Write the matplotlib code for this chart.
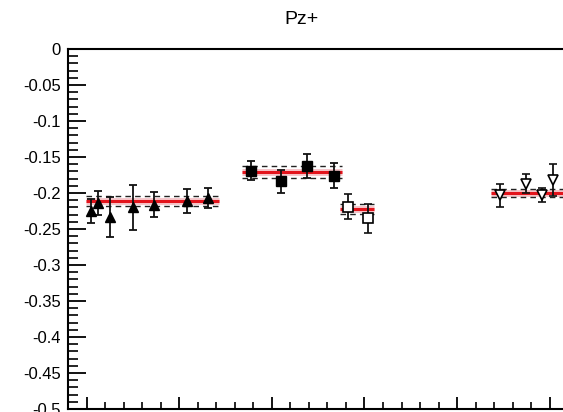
"""
Pz+ values per group with constant fits.
"""
import numpy as np
import matplotlib.pyplot as plt
from matplotlib.ticker import MultipleLocator

# filled triangles
tri_x = [0.05, 0.12, 0.25, 0.50, 0.73, 1.08, 1.31]
tri_y = [-0.225, -0.214, -0.233, -0.220, -0.216, -0.211, -0.207]
tri_err = [0.017, 0.017, 0.028, 0.031, 0.017, 0.017, 0.014]

# filled squares
sq_x = [1.77, 2.10, 2.38, 2.67]
sq_y = [-0.169, -0.184, -0.1625, -0.176]
sq_err = [0.013, 0.016, 0.016, 0.017]

# open squares
osq_x = [2.82, 3.04]
osq_y = [-0.219, -0.235]
osq_err = [0.017, 0.020]

# open down triangles
otri_x = [4.46, 4.74, 4.92, 5.03]
otri_y = [-0.203, -0.187, -0.203, -0.182]
otri_err = [0.016, 0.013, 0.010, 0.022]

# constant fits: start, end, value, error
fit_x0 = [-0.01, 1.68, 2.74, 4.36]
fit_x1 = [1.43, 2.76, 3.10, 5.15]
fit_val = [-0.211, -0.171, -0.222, -0.200]
fit_err = [0.0075, 0.008, 0.007, 0.006]

ytick_vals = [0, -0.05, -0.1, -0.15, -0.2, -0.25, -0.3, -0.35, -0.4, -0.45, -0.5]
ytick_labels = ['0', '-0.05', '-0.1', '-0.15', '-0.2', '-0.25', '-0.3',
                '-0.35', '-0.4', '-0.45', '-0.5']

plt.rcParams['font.family'] = ['Liberation Sans', 'DejaVu Sans']

W, H = 563, 412
fig = plt.figure(figsize=(W/100, H/100), dpi=100)
# axes runs past the right edge of the picture
x_left, x_right = 68, 623
y_top, y_bot = 49, 409
ax = fig.add_axes([x_left/W, 1 - y_bot/H, (x_right - x_left)/W,
                   (y_bot - y_top)/H])
ax.set_xlim(-0.2, 5.79)
ax.set_ylim(-0.5, 0)

# fits
for x0, x1, v, e in zip(fit_x0, fit_x1, fit_val, fit_err):
    ax.plot([x0, x1], [v, v], color='#f0a0a8', lw=5, alpha=0.6, zorder=2,
            solid_capstyle='butt')
    ax.plot([x0, x1], [v, v], color='#e3141c', lw=2.2, zorder=2,
            solid_capstyle='butt')
    ax.plot([x0, x1], [v + e, v + e], color='#222222', lw=1.0,
            ls=(0, (4, 3)), zorder=2)
    ax.plot([x0, x1], [v - e, v - e], color='#222222', lw=1.0,
            ls=(0, (4, 3)), zorder=2)

ebk = dict(ls='none', ecolor='#111111', elinewidth=1.3, capsize=3,
           capthick=1.3, zorder=3)
ax.errorbar(tri_x, tri_y, yerr=tri_err, marker='^', ms=7, mfc='k', mec='k',
            **ebk)
ax.errorbar(sq_x, sq_y, yerr=sq_err, marker='s', ms=7, mfc='k', mec='k',
            **ebk)
ax.errorbar(osq_x, osq_y, yerr=osq_err, marker='s', ms=7, mfc='white',
            mec='k', mew=1.2, **ebk)
ax.errorbar(otri_x, otri_y, yerr=otri_err, marker='v', ms=7, mfc='white',
            mec='k', mew=1.2, **ebk)

# axis style
for side in ['left', 'bottom', 'top']:
    ax.spines[side].set_linewidth(1.5)
ax.spines['right'].set_visible(False)
ax.set_yticks(ytick_vals)
ax.set_yticklabels(ytick_labels)
ax.yaxis.set_minor_locator(MultipleLocator(0.01))
ax.xaxis.set_major_locator(MultipleLocator(1))
ax.xaxis.set_minor_locator(MultipleLocator(0.2))
ax.tick_params(axis='y', which='major', direction='in', length=13, width=1.3,
               labelsize=12, pad=5, colors='k')
ax.tick_params(axis='y', which='minor', direction='in', length=7, width=1.2)
ax.tick_params(axis='x', which='major', direction='in', length=9, width=1.3,
               labelbottom=False)
ax.tick_params(axis='x', which='minor', direction='in', length=5, width=1.2)

fig.text(301/W, 1 - 20/H, 'Pz+', ha='center', va='center', fontsize=14)

fig.savefig('out.png', dpi=100)
